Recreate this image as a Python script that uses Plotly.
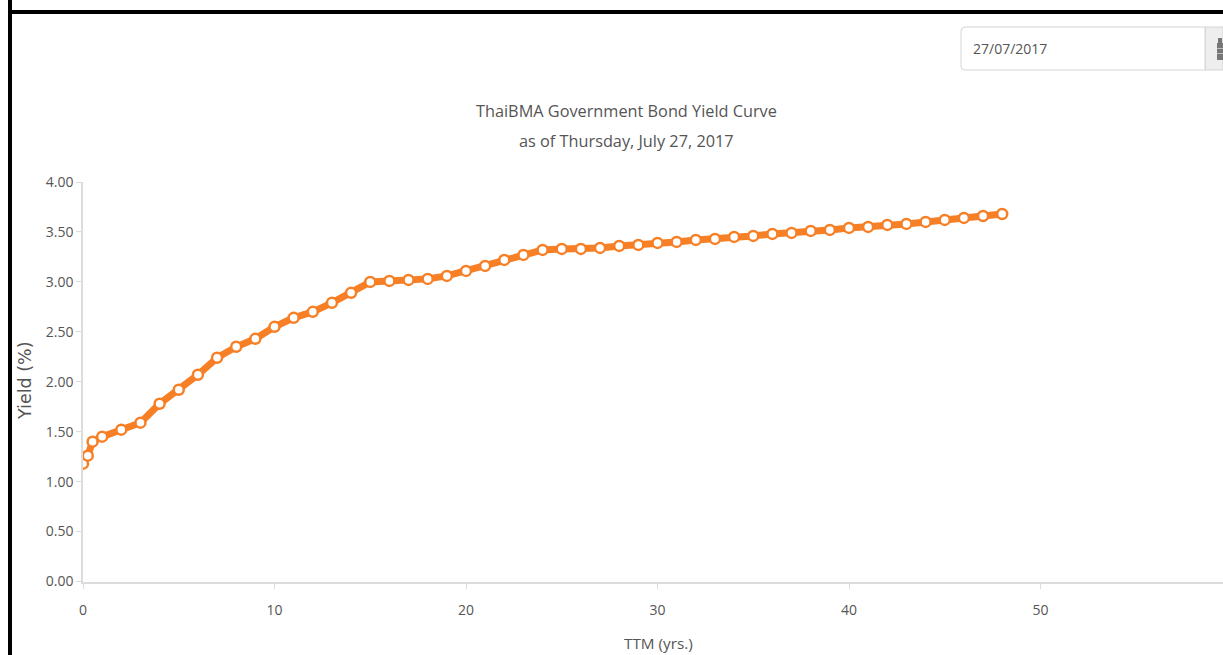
import plotly.graph_objects as go

W, H = 1223, 655
ttm = [0, 0.25, 0.5, 1, 2, 3, 4, 5, 6, 7, 8, 9, 10, 11, 12, 13, 14, 15, 16, 17, 18, 19, 20, 21, 22, 23, 24,
       25, 26, 27, 28, 29, 30, 31, 32, 33, 34, 35, 36, 37, 38, 39, 40, 41, 42, 43, 44, 45, 46, 47, 48]
yield_pct = [1.18, 1.26, 1.40, 1.45, 1.52, 1.59, 1.78, 1.92, 2.07, 2.24, 2.35, 2.43, 2.55, 2.64, 2.70, 2.79, 2.89,
             3.00, 3.01, 3.02, 3.03, 3.06, 3.11, 3.16, 3.22, 3.27, 3.32, 3.33, 3.33, 3.34, 3.36, 3.37, 3.39,
             3.40, 3.42, 3.43, 3.45, 3.46, 3.48, 3.49, 3.51, 3.52, 3.54, 3.55, 3.57, 3.58, 3.60, 3.62, 3.64, 3.66, 3.68]
x_ticks = [0, 10, 20, 30, 40, 50]
y_ticks = [0, 0.5, 1, 1.5, 2, 2.5, 3, 3.5, 4]
y_tick_labels = ["0.00", "0.50", "1.00", "1.50", "2.00", "2.50", "3.00", "3.50", "4.00"]
title_lines = ["ThaiBMA Government Bond Yield Curve", "as of Thursday, July 27, 2017"]
date_text = "27/07/2017"

ORANGE = "#f77f26"
GREY = "#555555"
AXIS = "#dcdcdc"
FONT = "Open Sans"


def px(x):
    return x / W


def py(y):
    return 1 - y / H


def box(x0, y0, x1, y1, fill, line=None, lw=0):
    return dict(type="rect", xref="paper", yref="paper", x0=px(x0), x1=px(x1), y0=py(y0), y1=py(y1),
                fillcolor=fill, line=dict(color=line or fill, width=lw), layer="above")


def label(text, x, y, size, color=GREY, family=FONT, angle=0, xanchor="center"):
    return dict(text=text, xref="paper", yref="paper", x=px(x), y=py(y), showarrow=False,
                xanchor=xanchor, yanchor="middle", textangle=angle,
                font=dict(family=family, size=size, color=color))


fig = go.Figure(go.Scatter(
    x=ttm, y=yield_pct, mode="lines+markers",
    line=dict(color=ORANGE, width=7),
    marker=dict(size=10, color="white", line=dict(color=ORANGE, width=2.5)),
    showlegend=False,
))

shapes = [
    box(8, 0, 12, H, "black"),
    box(8, 10, W, 14, "black"),
    box(1205, 27, W, 70, "#eeeeee", "#d4d4d4", 1),
    # calendar icon
    box(1217, 43, W, 60, "#777777"),
    box(1218, 38, 1222, 43, "#777777"),
    box(1217, 48, W, 49, "#bbbbbb"),
    box(1217, 53, W, 54, "#bbbbbb"),
    dict(type="path", xref="paper", yref="paper", layer="above",
         path=f"M {px(1205)} {py(27)} L {px(965)} {py(27)} Q {px(961)} {py(27)} {px(961)} {py(31)} "
              f"L {px(961)} {py(66)} Q {px(961)} {py(70)} {px(965)} {py(70)} L {px(1205)} {py(70)} Z",
         fillcolor="white", line=dict(color="#d4d4d4", width=1)),
]

annotations = [
    label(title_lines[0], 626.5, 111, 16.3),
    label(title_lines[1], 626.5, 141, 16.3),
    label(date_text, 971, 48.5, 14, xanchor="left"),
    label("Yield (%)", 25, 381, 17.5, angle=-90, family="DejaVu Sans"),
    label("TTM (yrs.)", 658, 643, 15.3),
]

fig.update_layout(
    width=W, height=H, autosize=False,
    margin=dict(l=0, r=0, t=0, b=0, autoexpand=False),
    paper_bgcolor="white", plot_bgcolor="white",
    font=dict(family=FONT, size=14, color=GREY),
    shapes=shapes, annotations=annotations,
    xaxis=dict(domain=[83 / W, 1], range=[0, (W - 83) / 19.15], tickvals=x_ticks,
               ticks="outside", ticklen=6, tickcolor=AXIS, tickwidth=1, ticklabelstandoff=9,
               showgrid=False, zeroline=False, showline=True, linecolor=AXIS, linewidth=1.5,
               tickfont=dict(size=14, color=GREY)),
    yaxis=dict(domain=[py(581.5), py(182)], range=[0, 4], tickvals=y_ticks, ticktext=y_tick_labels,
               ticks="outside", ticklen=5, tickcolor=AXIS, tickwidth=1,
               showgrid=False, zeroline=False, showline=True, linecolor=AXIS, linewidth=1.5,
               tickfont=dict(size=14, color=GREY)),
)

post = "document.documentElement.style.margin='0';document.body.style.margin='0';document.body.style.overflow='hidden';"
fig.write_html("out.html", config=dict(displayModeBar=False), post_script=post)
